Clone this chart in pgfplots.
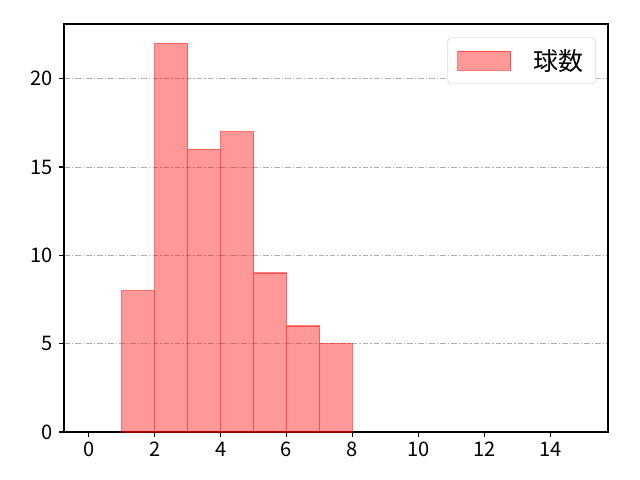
\documentclass[border=0pt]{standalone}
\usepackage{fontspec}
\setmainfont{Noto Sans CJK JP}
\usepackage{pgfplots}
\pgfplotsset{compat=1.18}

\pgfplotstableread{
lo  cnt
1   8
2   22
3   16
4   17
5   9
6   6
7   5
8   0
}\histdata

\begin{document}
\begin{tikzpicture}
  \useasboundingbox (-46.08bp,-34.56bp) rectangle (414.72bp,311.04bp);
  \begin{axis}[
    at={(0bp,0bp)}, anchor=south west,
    scale only axis,
    width=391.68bp, height=293.76bp,
    xmin=-0.75, xmax=15.75,
    ymin=0, ymax=23.1,
    xtick={0,2,...,14},
    ytick={0,5,10,15,20},
    tick align=outside,
    tick pos=left,
    major tick length=3.5pt,
    every tick/.style={black, line width=1pt},
    axis line style={line width=1pt},
    ymajorgrids,
    major grid style={black!31, line width=0.6pt, dash pattern=on 4pt off 1.5pt on 1pt off 1.5pt},
    ticklabel style={font=\fontsize{14.5}{16}\selectfont},
    yticklabel style={xshift=-1pt},
    /pgf/number format/assume math mode=true,
    legend style={at={(0.978,0.968)}, anchor=north east, draw=black!15,
      rounded corners=3pt, font=\fontsize{18}{19}\selectfont,
      inner xsep=7bp, inner ysep=6.5bp, row sep=0pt},
    legend cell align=left,
    legend image code/.code={
      \draw[#1, sharp corners] (0bp,-6.8bp) rectangle (38bp,6.8bp);
    },
  ]
    \addplot[ybar interval, fill=red, fill opacity=0.4, draw=red, draw opacity=0.5, line width=0.8pt]
      table[x=lo, y=cnt] {\histdata};
    \addlegendentry{\hspace{14bp}球数\hspace{3bp}}
  \end{axis}
\end{tikzpicture}
\end{document}
